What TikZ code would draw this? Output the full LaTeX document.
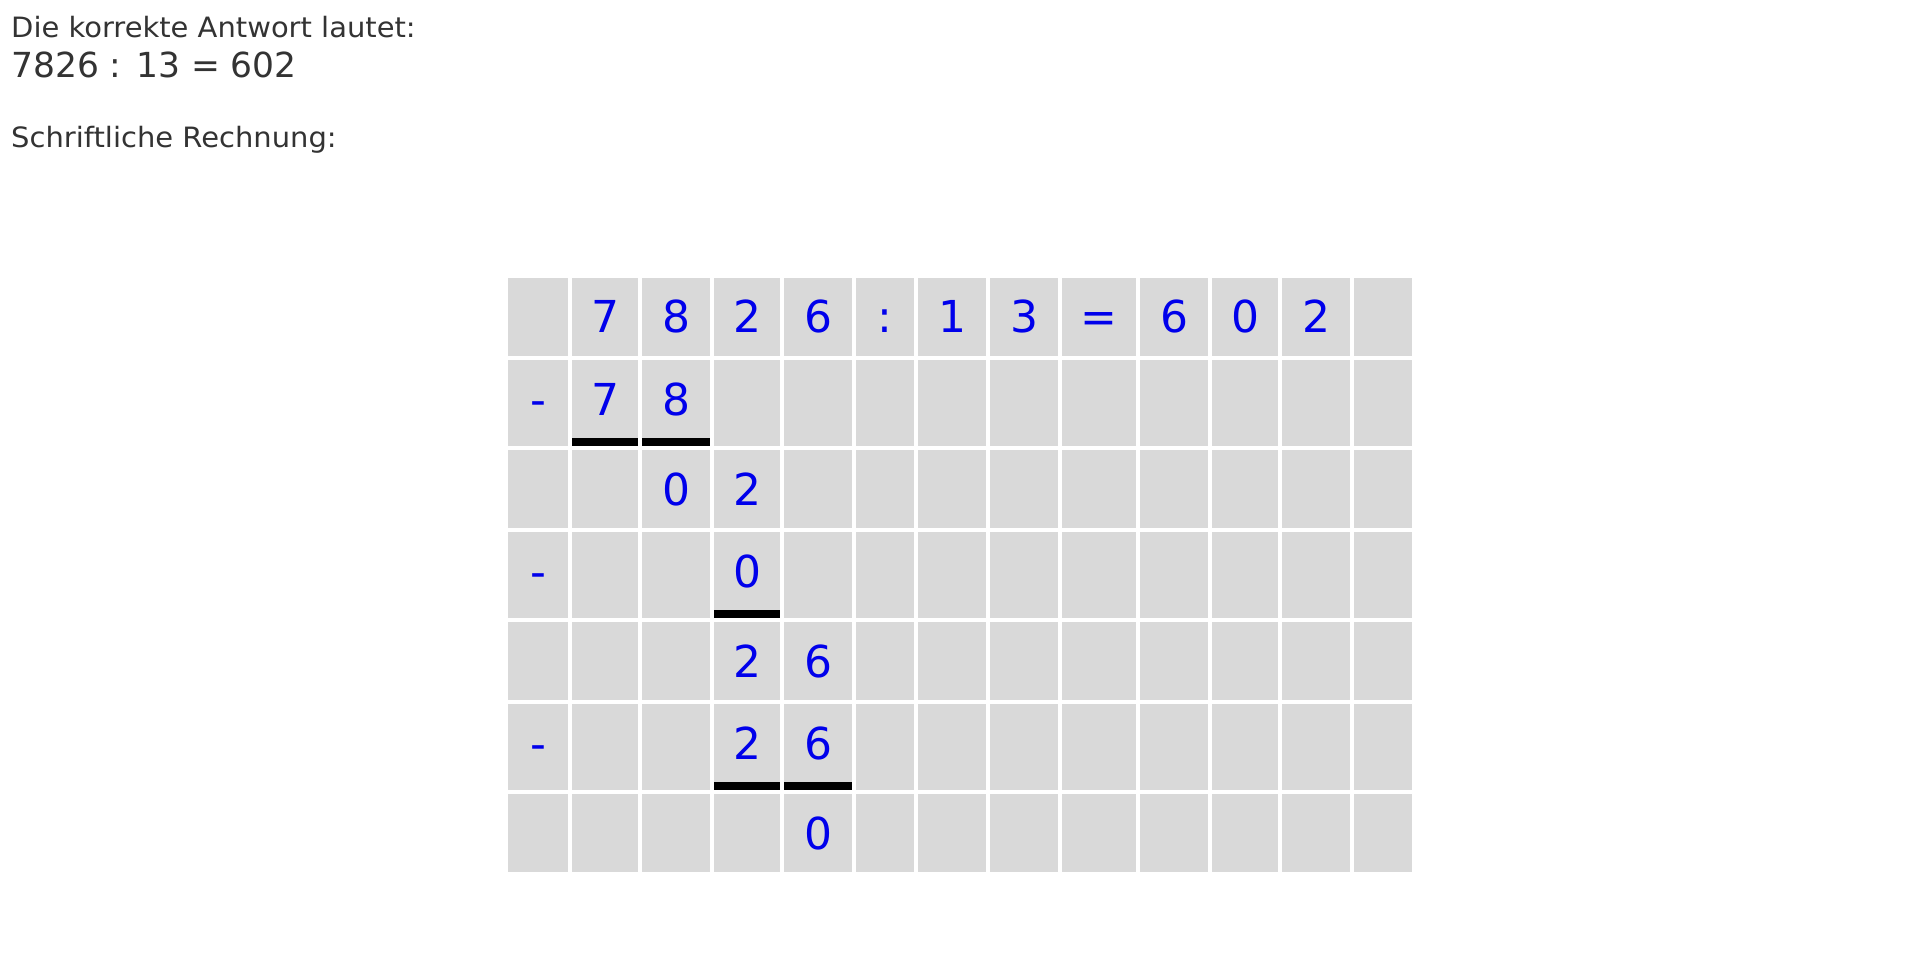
\documentclass[tikz,border=0pt]{standalone}
\usepackage{fontspec}
\setmainfont{DejaVu Sans}
\newfontfamily\infofont[FakeStretch=1.035]{DejaVu Sans}
\usetikzlibrary{calc}

\definecolor{cellgray}{RGB}{217,217,217}
\definecolor{digitblue}{RGB}{0,0,235}
\definecolor{textgray}{RGB}{51,51,51}

\tikzset{
  InfoText/.style = {anchor=base west, inner sep=0pt, text=textgray, font=\infofont\fontsize{28}{34}\selectfont},
  ResultText/.style = {InfoText, font=\fontsize{34.5}{42}\selectfont},
  Digit/.style = {anchor=base, inner sep=0pt, text=digitblue, font=\fontsize{44}{52}\selectfont},
  Cell/.style = {fill=cellgray},
  Bar/.style = {fill=black}
}

\begin{document}
\begin{tikzpicture}[x=1pt,y=-1pt]
          \useasboundingbox[fill=white] (0,0) rectangle (1920,976);

          % answer text
          \node[InfoText] (intro) at (11,37.5){Die korrekte Antwort lautet:};
          \node[ResultText] (result) at (11,78){7826 : 13 = 602};
          \node[InfoText] (method) at (11,148){Schriftliche Rechnung:};

          % grid cells
          \foreach \l/\r in {508/568,572/638,642/710,714/780,784/852,856/914,918/986,
                             990/1058,1062/1136,1140/1208,1212/1278,1282/1350,1354/1412}
            \foreach \t/\b in {278/356,360/446,450/528,532/618,622/700,704/790,794/872}
              \fill[Cell] (\l,\t) rectangle (\r,\b);

          % task row
          \node[Digit] (d0a) at (605,333){7};
          \node[Digit] (d0b) at (676,333){8};
          \node[Digit] (d0c) at (747,333){2};
          \node[Digit] (d0d) at (818,333){6};
          \node[Digit] (d0e) at (885,333){:};
          \node[Digit] (d0f) at (952,333){1};
          \node[Digit] (d0g) at (1024,333){3};
          \node[Digit] (d0h) at (1099,333){=};
          \node[Digit] (d0i) at (1174,333){6};
          \node[Digit] (d0j) at (1245,333){0};
          \node[Digit] (d0k) at (1316,333){2};

          % first step
          \node[Digit] (m1) at (538,415){-};
          \node[Digit] (d1a) at (605,415){7};
          \node[Digit] (d1b) at (676,415){8};
          \fill[Bar] (572,438) rectangle (638,446);
          \fill[Bar] (642,438) rectangle (710,446);
          \node[Digit] (d2b) at (676,505){0};
          \node[Digit] (d2c) at (747,505){2};

          % second step
          \node[Digit] (m3) at (538,587){-};
          \node[Digit] (d3c) at (747,587){0};
          \fill[Bar] (714,610) rectangle (780,618);
          \node[Digit] (d4c) at (747,677){2};
          \node[Digit] (d4d) at (818,677){6};

          % third step
          \node[Digit] (m5) at (538,759){-};
          \node[Digit] (d5c) at (747,759){2};
          \node[Digit] (d5d) at (818,759){6};
          \fill[Bar] (714,782) rectangle (780,790);
          \fill[Bar] (784,782) rectangle (852,790);
          \node[Digit] (d6d) at (818,849){0};
        \end{tikzpicture}
\end{document}
